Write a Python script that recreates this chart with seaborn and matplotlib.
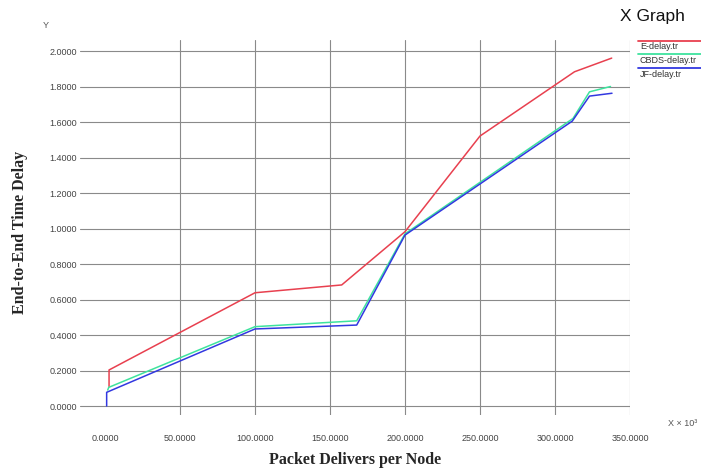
import matplotlib
matplotlib.use("Agg")
import matplotlib.pyplot as plt
from matplotlib.lines import Line2D
import seaborn as sns
import pandas as pd

# ---- data ----
series_names = ["E-delay.tr", "CBDS-delay.tr", "JF-delay.tr"]
e_x = [2.7, 2.7, 100, 157.8, 200, 250, 313, 337.8]
e_y = [0.11, 0.203, 0.638, 0.682, 0.982, 1.521, 1.883, 1.96]
cbds_x = [1.8, 2.5, 100, 167.8, 200, 312, 323, 337]
cbds_y = [0.09, 0.105, 0.447, 0.48, 0.97, 1.62, 1.77, 1.80]
jf_x = [1.1, 1.1, 100, 167.8, 200, 311.5, 323, 338]
jf_y = [0.0, 0.077, 0.434, 0.456, 0.963, 1.605, 1.746, 1.762]
x_ticks = [0, 50, 100, 150, 200, 250, 300, 350]
y_ticks = [0.0, 0.2, 0.4, 0.6, 0.8, 1.0, 1.2, 1.4, 1.6, 1.8, 2.0]

colors = ["#e8404f", "#3ee39e", "#3238e0"]

frames = []
for name, xs, ys in zip(series_names, [e_x, cbds_x, jf_x], [e_y, cbds_y, jf_y]):
    frames.append(pd.DataFrame({"x": xs, "y": ys, "series": name, "order": range(len(xs))}))
df = pd.concat(frames, ignore_index=True)

sns.set_style("white")
plt.rcParams["font.family"] = ["Liberation Sans", "DejaVu Sans"]

W, H = 701, 470
fig = plt.figure(figsize=(W / 100, H / 100), dpi=100)
left, right, top, bottom = 80, 630, 40, 415
ax = fig.add_axes([left / W, 1 - bottom / H, (right - left) / W, (bottom - top) / H])

sns.lineplot(data=df, x="x", y="y", hue="series", units="series", estimator=None,
             sort=False, palette=dict(zip(series_names, colors)), linewidth=1.1,
             legend=False, ax=ax, zorder=3)

ax.set_xlim(-16.67, 350)
ax.set_ylim(-0.0507, 2.062)
ax.set_xticks(x_ticks)
ax.set_xticklabels([f"{v:.4f}" for v in x_ticks])
ax.set_yticks(y_ticks)
ax.set_yticklabels([f"{v:.4f}" for v in y_ticks])
ax.grid(True, color="#8a8a8a", linewidth=0.8)
ax.xaxis.get_gridlines()[0].set_visible(False)
for s in ax.spines.values():
    s.set_visible(False)
ax.tick_params(axis="both", length=0, labelsize=6.5, labelcolor="#444444")
ax.tick_params(axis="x", pad=14)
ax.tick_params(axis="y", pad=2)
ax.set_xlabel("")
ax.set_ylabel("")

serif_bold = dict(family=["Liberation Serif", "DejaVu Serif"], weight="bold", size=11.5)
fig.text(355 / W, 1 - 460 / H, "Packet Delivers per Node", ha="center", va="center", **serif_bold)
fig.text(20 / W, 1 - 232 / H, "End-to-End Time Delay", ha="center", va="center",
         rotation=90, **serif_bold)

fig.text(652 / W, 1 - 17 / H, "X Graph", ha="center", va="center", fontsize=12.5, color="#111111")
fig.text(46 / W, 1 - 26 / H, "Y", ha="center", va="center", fontsize=6.5, color="#555555")
fig.text(668 / W, 1 - 423 / H, "X × 10³", ha="left", va="center", fontsize=6.5, color="#555555")

# legend (custom, outside plot)
line_ys = [40.5, 54.3, 68.2]
for name, c, ly in zip(series_names, colors, line_ys):
    fig.add_artist(Line2D([638 / W, 1.0], [1 - ly / H, 1 - ly / H], color=c, linewidth=1.3,
                          transform=fig.transFigure))
    fig.text(640 / W, 1 - (ly + 6) / H, name, ha="left", va="center", fontsize=6.5, color="#333333")

fig.savefig("out.png", dpi=100)
